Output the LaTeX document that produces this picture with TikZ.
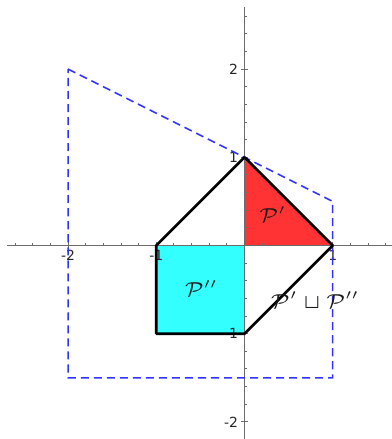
\documentclass[tikz,border=0pt]{standalone}
\usepackage{fix-cm}
\usepackage{fontspec}
\setsansfont{DejaVu Sans}
\begin{document}
\begin{tikzpicture}[x=1cm,y=1cm,
  axisline/.style={draw=gray!85!black,line width=0.45pt},
  tickmark/.style={draw=gray!85!black,line width=0.3pt},
  ticklabel/.style={font=\sffamily\fontsize{4.5}{5}\selectfont,inner sep=0.5pt,text=black!85},
  polyline/.style={draw=black,line width=0.85pt,line join=round},
  dashbox/.style={draw=blue!80!white,line width=0.5pt,dash pattern=on 2.6pt off 1.6pt},
  setlabel/.style={font=\fontsize{6.5}{7.5}\selectfont,inner sep=0pt,text=black!90}]
\useasboundingbox (-2.772,-2.194) rectangle (1.672,2.783);
\definecolor{redfill}{RGB}{255,51,51}
\definecolor{cyanfill}{RGB}{51,255,255}
% vertices
\coordinate (O) at (0,0);
\coordinate (A) at (-1,0);
\coordinate (B) at (0,1);
\coordinate (C) at (1,0);
\coordinate (D) at (0,-1);
\coordinate (E) at (-1,-1);
\coordinate (Q1) at (-2,2);
\coordinate (Q2) at (1,0.5);
\coordinate (Q3) at (1,-1.5);
\coordinate (Q4) at (-2,-1.5);
% fills
\fill[redfill] (O) -- (B) -- (C) -- cycle;
\fill[cyanfill] (O) -- (A) -- (E) -- (D) -- cycle;
% axes
\coordinate (xl) at (-2.69,0);
\coordinate (xr) at (1.672,0);
\coordinate (yt) at (0,2.70);
\coordinate (yb) at (0,-2.194);
\draw[axisline] (xl) -- (xr);
\draw[axisline] (yb) -- (yt);
\foreach \i in {-13,...,8} {
  \draw[tickmark] (\i*0.2,0) -- (\i*0.2,0.028);
}
\foreach \i in {-10,...,13} {
  \draw[tickmark] (0,\i*0.2) -- (0.028,\i*0.2);
}
\foreach \i in {-2,-1,1} {
  \draw[tickmark] (\i,-0.035) -- (\i,0.04);
}
\foreach \i in {-2,-1,1,2} {
  \draw[tickmark] (-0.035,\i) -- (0.04,\i);
}
\node[ticklabel,anchor=north] (tx2) at (-2,-0.03) {-2};
\node[ticklabel,anchor=north] (tx1) at (-1,-0.03) {-1};
\node[ticklabel,anchor=north] (txp1) at (1,-0.03) {1};
\node[ticklabel,anchor=east] (ty2) at (-0.05,2) {2};
\node[ticklabel,anchor=east] (ty1) at (-0.05,1) {1};
\node[ticklabel,anchor=east] (tym1) at (-0.05,-1) {-1};
\node[ticklabel,anchor=east] (tym2) at (-0.05,-2) {-2};
% dashed polygon
\draw[dashbox] (Q1) -- (Q2) -- (Q3) -- (Q4) -- cycle;
% black polygon
\draw[polyline] (A) -- (B) -- (C) -- (D) -- (E) -- cycle;
% labels
\node[setlabel] (lp1) at (0.32,0.35) {$\mathcal{P}'$};
\node[setlabel] (lp2) at (-0.49,-0.49) {$\mathcal{P}''$};
\node[setlabel] (lp3) at (0.80,-0.62) {$\mathcal{P}'\sqcup\mathcal{P}''$};
\end{tikzpicture}
\end{document}
